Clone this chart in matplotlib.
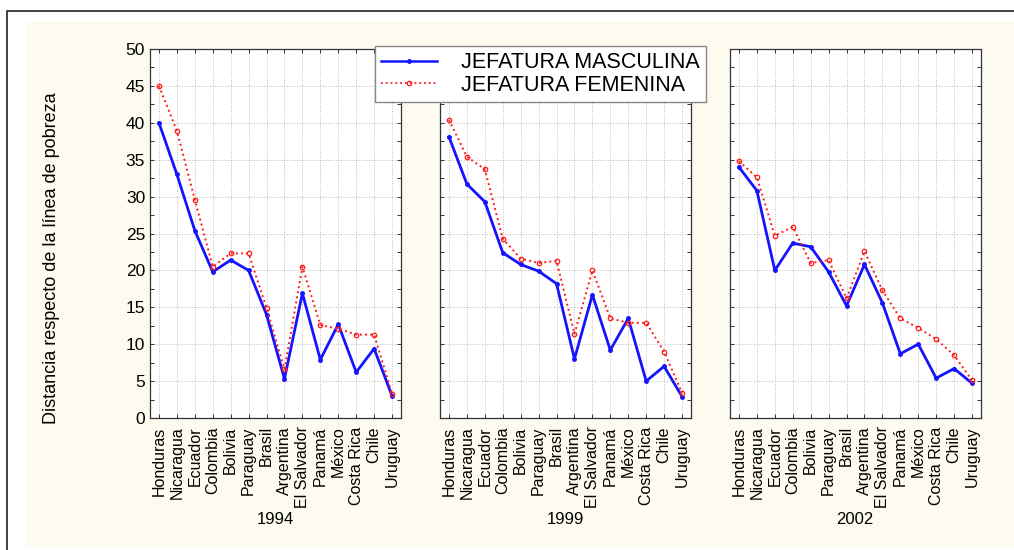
import matplotlib.pyplot as plt
from matplotlib.patches import Rectangle
from matplotlib.lines import Line2D

plt.rcParams['font.family'] = ['Liberation Sans', 'DejaVu Sans']

# DATA
paises = ["Honduras", "Nicaragua", "Ecuador", "Colombia", "Bolivia", "Paraguay", "Brasil",
          "Argentina", "El Salvador", "Panamá", "México", "Costa Rica", "Chile", "Uruguay"]
anios = ["1994", "1999", "2002"]

masc_1994 = [40.0, 33.0, 25.4, 19.8, 21.4, 20.0, 14.0, 5.3, 16.9, 7.9, 12.7, 6.2, 9.4, 3.0]
fem_1994 = [45.0, 38.9, 29.6, 20.5, 22.3, 22.3, 14.9, 6.6, 20.5, 12.6, 12.1, 11.3, 11.3, 3.3]

masc_1999 = [38.1, 31.7, 29.3, 22.4, 20.8, 19.9, 18.2, 8.0, 16.7, 9.2, 13.5, 5.0, 7.0, 2.9]
fem_1999 = [40.4, 35.4, 33.7, 24.3, 21.6, 21.0, 21.3, 11.4, 20.0, 13.5, 12.9, 12.9, 9.0, 3.4]

masc_2002 = [34.0, 30.8, 20.0, 23.7, 23.2, 19.8, 15.2, 20.8, 15.6, 8.7, 10.0, 5.4, 6.7, 4.7]
fem_2002 = [34.8, 32.6, 24.7, 25.9, 21.0, 21.4, 16.2, 22.6, 17.3, 13.5, 12.2, 10.7, 8.5, 5.1]

masculina = [masc_1994, masc_1999, masc_2002]
femenina = [fem_1994, fem_1999, fem_2002]

AZUL = "#1414ff"
ROJO = "#ff1a1a"
CREMA = "#fdfbef"

fig = plt.figure(figsize=(10.14, 5.5), dpi=100, facecolor="white")

# fondo crema y marco negro
fig.patches.append(Rectangle((27 / 1014, 0.005), 1.0, 1 - 22 / 550 - 0.005,
                             transform=fig.transFigure, facecolor=CREMA,
                             edgecolor="none", zorder=-2))
fig.patches.append(Rectangle((7 / 1014, -0.01), 1.05, 1 - 11 / 550 + 0.01,
                             transform=fig.transFigure, facecolor="none",
                             edgecolor="#222222", linewidth=1.2, zorder=-1))

lefts = [150, 440, 730]
x = list(range(len(paises)))

for k, left in enumerate(lefts):
    ax = fig.add_axes([left / 1014, 1 - 418 / 550, 251 / 1014, (418 - 49) / 550])
    ax.set_facecolor("white")
    ax.plot(x, masculina[k], color=AZUL, lw=2.0, marker="o", ms=2.5,
            label="JEFATURA MASCULINA", zorder=3)
    ax.plot(x, femenina[k], color=ROJO, lw=1.4, ls=":", marker="o", ms=3.2,
            mfc="none", mew=0.9, label="JEFATURA FEMENINA", zorder=4)
    ax.set_xlim(-0.5, len(paises) - 0.5)
    ax.set_ylim(0, 50)
    ax.set_yticks(range(0, 51, 5))
    ax.set_yticks([v + 2.5 for v in range(0, 50, 5)], minor=True)
    ax.set_xticks(x)
    ax.set_xticklabels(paises, rotation=90, fontsize=11.5)
    ax.tick_params(which="both", direction="in", top=True, right=True,
                   length=3, width=0.7, colors="#333333", labelcolor="black")
    ax.tick_params(axis="x", pad=6)
    if k == 0:
        ax.tick_params(axis="y", labelsize=12.5)
    else:
        ax.set_yticklabels([])
    ax.grid(True, which="major", ls=":", lw=0.7, color="#bbbbbb")
    for s in ax.spines.values():
        s.set_color("#333333")
        s.set_linewidth(0.9)
    fig.text((left + 125) / 1014, 1 - 519 / 550, anios[k], ha="center",
             va="center", fontsize=12)

fig.text(52 / 1014, 1 - 258 / 550, "Distancia respecto de la línea de pobreza",
         rotation=90, ha="center", va="center", fontsize=13)

handles = [Line2D([], [], color=AZUL, lw=1.8, marker="o", ms=2.5),
           Line2D([], [], color=ROJO, lw=1.3, ls=":", marker="o", ms=3.2,
                  mfc="none", mew=0.9)]
leg = fig.legend(handles, ["JEFATURA MASCULINA", "JEFATURA FEMENINA"],
                 loc="upper left", bbox_to_anchor=(375 / 1014, 1 - 46 / 550),
                 fontsize=15.5, frameon=True, fancybox=False, framealpha=1,
                 edgecolor="#888888", labelspacing=0.05, handlelength=2.6,
                 borderpad=0.3, handletextpad=1.1, borderaxespad=0)
leg.get_frame().set_linewidth(1.0)

fig.savefig("out.png", dpi=100, facecolor="white")
